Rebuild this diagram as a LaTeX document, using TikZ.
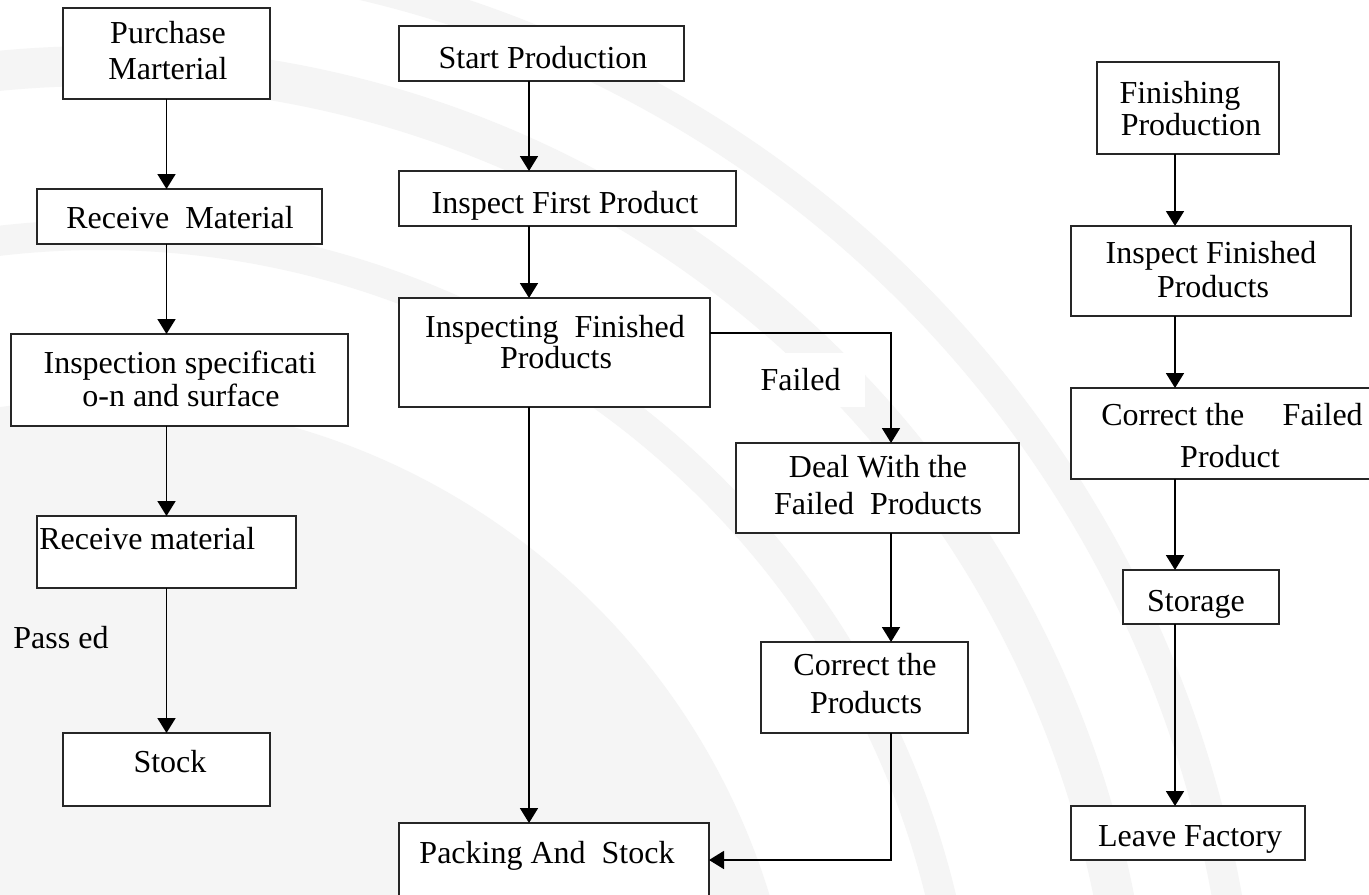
\documentclass[tikz,border=0pt]{standalone}
\usepackage{fontspec}
\setmainfont{Liberation Serif}
\usetikzlibrary{arrows.meta}
\newcommand\bx[5]{\node[box, minimum width={(#4-#2)*0.5pt}, minimum height={(#5-#3)*0.5pt}] (#1) at ({(#2+#4)/2},{(#3+#5)/2}) {};}
\begin{document}
\begin{tikzpicture}[x=0.5pt,y=-0.5pt,
  box/.style={draw=black!85, line width=0.9pt, fill=white, inner sep=0pt, outer sep=0pt},
  txt/.style={anchor=base, inner sep=0pt, font=\fontsize{16}{19}\selectfont},
  txtl/.style={anchor=base west, inner sep=0pt, font=\fontsize{16}{19}\selectfont},
  arr/.style={draw=black, line width=0.9pt, -{Triangle[width=9pt,length=7.5pt]}},
  bg/.style={fill=black!4},
]
\useasboundingbox (0,0) rectangle (1369,894);
\clip (0,0) rectangle (1369,894);
% background swooshes
\fill[white] (0,0) rectangle (1369,894);
\fill[bg] (100,1100) circle (350pt);
\fill[bg, even odd rule] (100,1100) circle (527pt) (100,1100) circle (507pt);
\fill[bg, even odd rule] (100,1100) circle (580pt) (100,1100) circle (565pt);
\fill[bg, even odd rule] (100,1100) circle (440pt) (100,1100) circle (425pt);

% left column
\bx{pm}{63}{8}{270}{99}
\bx{rm1}{37}{189}{322}{244}
\bx{insp}{11}{334}{348}{426}
\bx{rm2}{37}{516}{296}{588}
\bx{stock}{63}{733}{270}{806}
\node[txt] (pm1) at (168,43) {Purchase};
\node[txt] (pm2) at (168,79) {Marterial};
\node[txt] (rm1t) at (180,228) {Receive\ \ Material};
\node[txt] (in1) at (180,373) {Inspection specificati};
\node[txt] (in2) at (181,406) {o-n and surface};
\node[txtl] (rm2t) at (39,549) {Receive material};
\node[txtl] (passed) at (13,648) {Pass ed};
\node[txt] (stt) at (170,772) {Stock};
\draw[arr] (pm.south) -- (pm.south |- rm1.north);
\draw[arr] (pm.south |- rm1.south) -- (pm.south |- insp.north);
\draw[arr] (pm.south |- insp.south) -- (rm2.north);
\draw[arr] (rm2.south) -- (stock.north);

% middle column
\bx{sp}{399}{26}{684}{81}
\bx{ifp}{399}{171}{736}{226}
\bx{ifd}{399}{298}{710}{407}
\bx{deal}{736}{443}{1019}{533}
\bx{corr}{761}{642}{968}{733}
\bx{pack}{399}{823}{709}{910}
\node[fill=white, inner sep=0pt, minimum width=64.5pt, minimum height=27pt, font=\fontsize{16}{19}\selectfont] (failed) at (800.5,380) {Failed};
\node[txt] (spt) at (543,68) {Start Production};
\node[txt] (ifpt) at (565,213) {Inspect First Product};
\node[txt] (ifd1) at (555,337) {Inspecting\ \ Finished};
\node[txt] (ifd2) at (556,368) {Products};
\node[txt] (deal1) at (878,477) {Deal With the};
\node[txt] (deal2) at (878,514) {Failed\ \ Products};
\node[txt] (corr1) at (865,675) {Correct the};
\node[txt] (corr2) at (866,713) {Products};
\node[txt] (packt) at (547,863) {Packing And\ \ Stock};
\coordinate (mx) at (529,0);
\coordinate (fx) at (891,333);
\coordinate (px) at (891,860);
\draw[arr] (mx |- sp.south) -- (mx |- ifp.north);
\draw[arr] (mx |- ifp.south) -- (mx |- ifd.north);
\draw[arr] (mx |- ifd.south) -- (mx |- pack.north);
\draw[arr] (ifd.east |- fx) -- (fx) -- (fx |- deal.north);
\draw[arr] (fx |- deal.south) -- (fx |- corr.north);
\draw[arr] (px |- corr.south) -- (px) -- (pack.east |- px);

% right column
\bx{fp}{1097}{62}{1279}{154}
\bx{ifin}{1071}{226}{1351}{316}
\bx{cfp}{1071}{388}{1390}{479}
\bx{stor}{1123}{570}{1279}{624}
\bx{leave}{1071}{806}{1305}{860}
\node[txt] (fp1) at (1180,103) {Finishing};
\node[txt] (fp2) at (1191,135) {Production};
\node[txt] (ifin1) at (1211,263) {Inspect Finished};
\node[txt] (ifin2) at (1213,297) {Products};
\node[txt] (cfp1) at (1232,425) {Correct the\hspace{1.2em}Failed};
\node[txt] (cfp2) at (1230,467) {Product};
\node[txt] (stort) at (1196,611) {Storage};
\node[txt] (leavet) at (1190,846) {Leave Factory};
\coordinate (rx) at (1175,0);
\draw[arr] (rx |- fp.south) -- (rx |- ifin.north);
\draw[arr] (rx |- ifin.south) -- (rx |- cfp.north);
\draw[arr] (rx |- cfp.south) -- (rx |- stor.north);
\draw[arr] (rx |- stor.south) -- (rx |- leave.north);
\end{tikzpicture}
\end{document}
